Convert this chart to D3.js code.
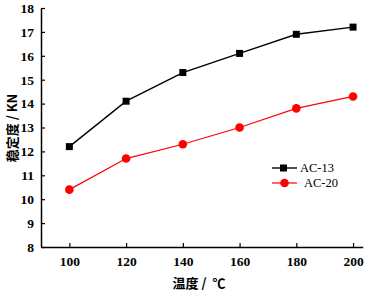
<!DOCTYPE html>
<html><head><meta charset="utf-8">
<script src="https://cdn.jsdelivr.net/npm/d3@7"></script>
<style>body{margin:0;background:#fff}svg{display:block}</style>
</head><body>
<script>
const temps = [100, 120, 140, 160, 180, 200];
const ac13 = [12.2, 14.1, 15.3, 16.1, 16.9, 17.2];
const ac20 = [10.4, 11.7, 12.3, 13.0, 13.8, 14.3];
const xTicks = [100, 120, 140, 160, 180, 200];
const yTicks = [8, 9, 10, 11, 12, 13, 14, 15, 16, 17, 18];
const seriesNames = ["AC-13", "AC-20"];

const W = 368, H = 292;
const svg = d3.select("body").append("svg").attr("width", W).attr("height", H);
const x = d3.scaleLinear().domain([90, 203.4]).range([41, 362.7]);
const y = d3.scaleLinear().domain([8, 18]).range([247, 8]);
const tickFont = "'Liberation Serif', 'DejaVu Serif', serif";

const xa = svg.append("g").attr("transform", `translate(0,${y(8)})`)
  .call(d3.axisBottom(x).tickValues(xTicks).tickSizeInner(-4).tickSizeOuter(0).tickPadding(9));
const ya = svg.append("g").attr("transform", `translate(${x(90)},0)`)
  .call(d3.axisLeft(y).tickValues(yTicks).tickSizeInner(-4).tickSizeOuter(0).tickPadding(7));
[xa, ya].forEach(a => {
  a.select(".domain").attr("stroke", "#000").attr("stroke-width", 1.5);
  a.selectAll(".tick line").attr("stroke", "#000").attr("stroke-width", 1.2);
  a.selectAll("text").attr("font-family", tickFont).attr("font-size", 13.5)
    .attr("font-weight", "bold").attr("fill", "#000");
});

const line = d3.line().x(d => x(d[0])).y(d => y(d[1]));
const d13 = temps.map((t, i) => [t, ac13[i]]);
const d20 = temps.map((t, i) => [t, ac20[i]]);

svg.append("path").datum(d13).attr("d", line).attr("fill", "none").attr("stroke", "#000").attr("stroke-width", 1.4);
svg.append("path").datum(d20).attr("d", line).attr("fill", "none").attr("stroke", "#ff0000").attr("stroke-width", 1.2);
svg.selectAll(".sq").data(d13).enter().append("rect")
  .attr("x", d => x(d[0]) - 3.5).attr("y", d => y(d[1]) - 3.5).attr("width", 7).attr("height", 7).attr("fill", "#000");
svg.selectAll(".ci").data(d20).enter().append("circle")
  .attr("cx", d => x(d[0])).attr("cy", d => y(d[1])).attr("r", 4.3).attr("fill", "#ff0000");

// legend
const lg = svg.append("g");
lg.append("line").attr("x1", 272).attr("x2", 297).attr("y1", 168).attr("y2", 168).attr("stroke", "#000").attr("stroke-width", 1.4);
lg.append("rect").attr("x", 283.5 - 3.5).attr("y", 168 - 3.5).attr("width", 7).attr("height", 7).attr("fill", "#000");
lg.append("text").attr("x", 300).attr("y", 168).attr("dy", "0.35em").text(seriesNames[0])
  .attr("font-family", tickFont).attr("font-size", 12.5).attr("fill", "#000");
lg.append("line").attr("x1", 272).attr("x2", 297).attr("y1", 183).attr("y2", 183).attr("stroke", "#ff0000").attr("stroke-width", 1.2);
lg.append("circle").attr("cx", 284.5).attr("cy", 183).attr("r", 4.3).attr("fill", "#ff0000");
lg.append("text").attr("x", 304).attr("y", 183).attr("dy", "0.35em").text(seriesNames[1])
  .attr("font-family", tickFont).attr("font-size", 12.5).attr("fill", "#000");

const cjk = "'Noto Sans CJK SC', sans-serif";
svg.append("text").attr("x", 199).attr("y", 283).attr("text-anchor", "middle").attr("dy", "0.35em")
  .attr("font-family", cjk).attr("font-size", 13).attr("font-weight", "bold").text("温度\u00a0/\u00a0\u00a0℃");
svg.append("text").attr("transform", "translate(12,128) rotate(-90)").attr("text-anchor", "middle").attr("dy", "0.35em")
  .attr("font-family", cjk).attr("font-size", 13).attr("font-weight", "bold").text("稳定度\u00a0/\u00a0KN");
</script>
</body></html>
